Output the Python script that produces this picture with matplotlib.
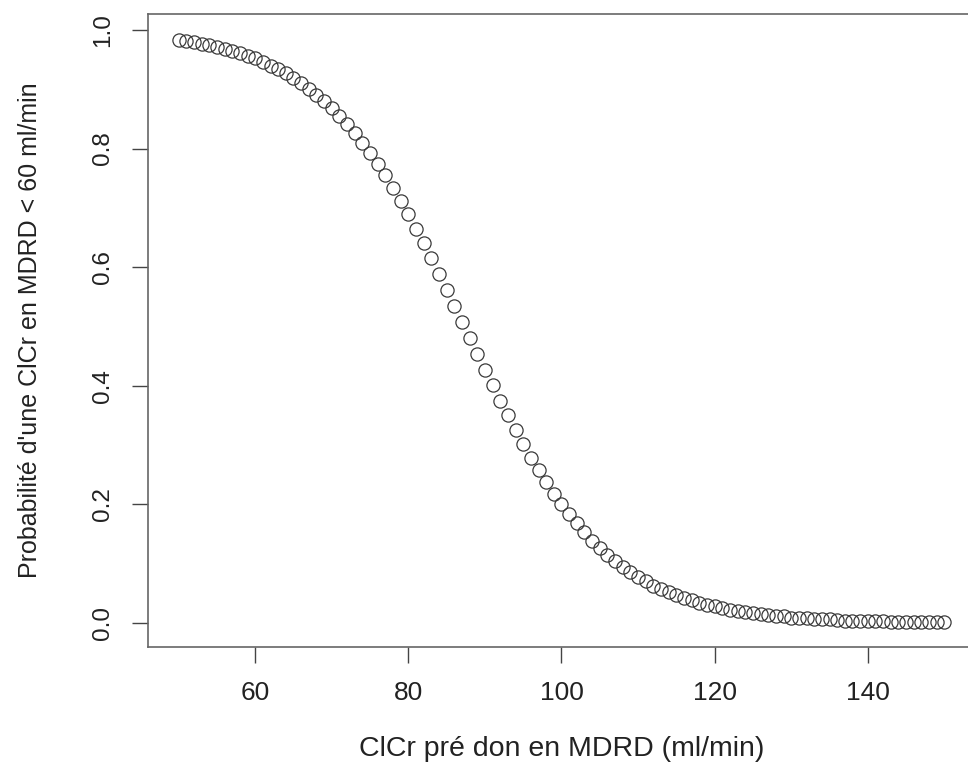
import matplotlib
matplotlib.use("Agg")
import matplotlib.pyplot as plt

plt.rcParams['font.family'] = ['Liberation Sans', 'DejaVu Sans']

# ClCr pre-donation (MDRD), ml/min
clcr = list(range(50, 151))

# estimated probability
proba = [
    0.983, 0.981, 0.979, 0.977, 0.974, 0.971, 0.968, 0.965, 0.961, 0.956,
    0.952, 0.946, 0.940, 0.934, 0.927, 0.919, 0.911, 0.901, 0.891, 0.880,
    0.868, 0.855, 0.841, 0.826, 0.810, 0.793, 0.774, 0.755, 0.734, 0.712,
    0.689, 0.665, 0.641, 0.615, 0.589, 0.562, 0.535, 0.508, 0.481, 0.454,
    0.427, 0.401, 0.375, 0.350, 0.325, 0.302, 0.279, 0.258, 0.238, 0.218,
    0.200, 0.184, 0.168, 0.153, 0.139, 0.127, 0.115, 0.105, 0.095, 0.086,
    0.078, 0.070, 0.063, 0.057, 0.052, 0.047, 0.042, 0.038, 0.034, 0.031,
    0.028, 0.025, 0.022, 0.020, 0.018, 0.016, 0.015, 0.013, 0.012, 0.011,
    0.009, 0.009, 0.008, 0.007, 0.006, 0.006, 0.005, 0.004, 0.004, 0.004,
    0.003, 0.003, 0.003, 0.002, 0.002, 0.002, 0.002, 0.002, 0.001, 0.001,
    0.001,
]

xticks = [60, 80, 100, 120, 140]
yticks = [0.0, 0.2, 0.4, 0.6, 0.8, 1.0]

fig = plt.figure(figsize=(9.68, 7.74), dpi=100)
# box runs a little past the right edge of the image, as in the original
ax = fig.add_axes([148 / 968, 127 / 774, 827 / 968, 633 / 774])

ax.plot(clcr, proba, linestyle='none', marker='o', markersize=9.5,
        markerfacecolor='none', markeredgecolor='#3a3a3a', markeredgewidth=0.9)

ax.set_xlim(46, 154)
ax.set_ylim(-0.0405, 1.027)
ax.set_xticks(xticks)
ax.set_yticks(yticks)
ax.set_yticklabels([f"{v:.1f}" for v in yticks], rotation=90, va='center')

ax.tick_params(direction='out', length=11.5, width=1, colors='#444444')
ax.tick_params(axis='x', labelsize=19, pad=13, labelcolor='#222222')
ax.tick_params(axis='y', labelsize=17.5, pad=13, labelcolor='#222222')
for s in ax.spines.values():
    s.set_color('#666666')
    s.set_linewidth(1.2)

ax.set_xlabel("ClCr pré don en MDRD (ml/min)", fontsize=20.5, color='#222222',
              labelpad=22)
ax.set_ylabel("Probabilité d'une ClCr en MDRD < 60 ml/min", fontsize=18,
              color='#222222', labelpad=36)

fig.savefig("out.png", dpi=100)
